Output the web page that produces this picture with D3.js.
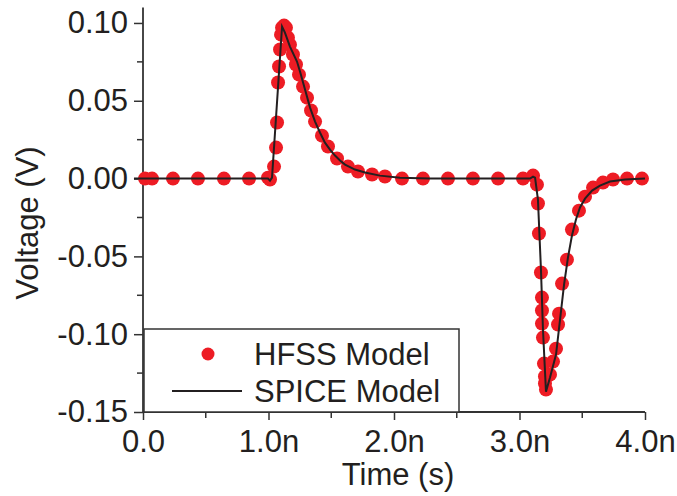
<!DOCTYPE html>
<html>
<head>
<meta charset="utf-8">
<script src="https://cdn.jsdelivr.net/npm/d3@7"></script>
<style>
  body { margin: 0; background: #fff; }
  text { font-family: "Liberation Sans", Arial, sans-serif; fill: #231f20; }
</style>
</head>
<body>
<div id="chart"></div>
<script>
// HFSS samples: time in ns, voltage in V
var hfssTime = [0.016, 0.072, 0.239, 0.438, 0.645, 0.845, 0.996, 1.012, 1.044, 1.060, 1.068, 1.076,
    1.084, 1.092, 1.100, 1.108, 1.124, 1.139, 1.155, 1.171, 1.195, 1.219, 1.243, 1.275, 1.307, 1.339,
    1.371, 1.426, 1.474, 1.546, 1.633, 1.713, 1.825, 1.928, 2.064, 2.231, 2.430, 2.629, 2.829, 3.028,
    3.108, 3.139, 3.147, 3.155, 3.171, 3.179, 3.179, 3.179, 3.187, 3.195, 3.203, 3.203, 3.211, 3.243,
    3.267, 3.291, 3.307, 3.315, 3.339, 3.378, 3.418, 3.474, 3.522, 3.586, 3.665, 3.745, 3.857, 3.976];
var hfssVolt = [0, 0, 0, 0, 0, 0, 0.0006, -0.0006, 0.0077, 0.0199, 0.036, 0.0617,
    0.072, 0.0829, 0.0925, 0.097, 0.0983, 0.097, 0.0906, 0.086, 0.0797, 0.0733, 0.0668, 0.0591, 0.052, 0.0437,
    0.0366, 0.0276, 0.0206, 0.0129, 0.0077, 0.0045, 0.0026, 0.0013, 0, 0, 0, 0, 0, 0,
    0.0019, -0.0039, -0.016, -0.0353, -0.0604, -0.0765, -0.0848, -0.0932, -0.1022, -0.1189, -0.1272, -0.1317, -0.1356, -0.126,
    -0.1176, -0.1093, -0.0938, -0.0868, -0.0675, -0.0521, -0.0328, -0.0206, -0.0116, -0.0058, -0.0026, -0.0006, 0, 0];

// SPICE curve
var spiceTime = [-0.072, 0.996, 1.012, 1.028, 1.108, 1.131, 1.171, 1.227, 1.251, 1.291, 1.331, 1.371, 1.410,
    1.450, 1.490, 1.530, 1.570, 1.610, 1.689, 1.769, 1.888, 2.048, 2.287, 3.084, 3.108, 3.124, 3.147, 3.171,
    3.187, 3.211, 3.243, 3.291, 3.323, 3.355, 3.386, 3.418, 3.450, 3.482, 3.522, 3.578, 3.641, 3.721, 3.841, 4.000];
var spiceVolt = [0, 0, -0.0013, 0.0006, 0.0977, 0.0938, 0.0848, 0.0752, 0.0688, 0.0572, 0.0456, 0.0366, 0.0296,
    0.0231, 0.0186, 0.0148, 0.0116, 0.009, 0.0058, 0.0039, 0.0019, 0.0006, 0, 0, 0.0013, 0.0006, -0.0135, -0.0585,
    -0.097, -0.1369, -0.1279, -0.1131, -0.0906, -0.0681, -0.0508, -0.0366, -0.0263, -0.0186, -0.0129, -0.0077, -0.0045, -0.0019, -0.0006, 0];

var xTicks = [0, 1, 2, 3, 4];
var xTickLabels = ["0.0", "1.0n", "2.0n", "3.0n", "4.0n"];
var yTicks = [0.10, 0.05, 0.00, -0.05, -0.10, -0.15];
var yTickLabels = ["0.10", "0.05", "0.00", "-0.05", "-0.10", "-0.15"];
var seriesNames = ["HFSS Model", "SPICE Model"];

var width = 677, height = 496, fontSize = 31;
var red = "#ed1c24", axisColor = "#333";

var svg = d3.select("#chart").append("svg")
    .attr("width", width)
    .attr("height", height);

//Scales
var x = d3.scaleLinear().domain([0, 4]).range([143, 645]);
var y = d3.scaleLinear().domain([-0.15, 0.11]).range([412, 7.4]);

//Y axis
var yAxis = d3.axisLeft(y)
    .tickValues(yTicks)
    .tickFormat(function(d, i) { return yTickLabels[i]; })
    .tickSize(9).tickPadding(6);
var gy = svg.append("g").attr("transform", "translate(" + x(0) + ",0)").call(yAxis);
gy.select(".domain").attr("stroke", axisColor).attr("stroke-width", 1.8).attr("d", "M0," + y(-0.15) + "V" + y(0.11));
gy.selectAll(".tick line").attr("stroke", axisColor).attr("stroke-width", 1.5);
gy.selectAll(".tick text").attr("font-size", fontSize).style("font-family", "Liberation Sans, Arial, sans-serif").attr("fill", "#231f20");

var yMinor = [0.075, 0.025, -0.025, -0.075, -0.125];
gy.selectAll(".minor").data(yMinor).enter().append("line")
    .attr("x1", -6).attr("x2", 0)
    .attr("y1", function(d) { return y(d); }).attr("y2", function(d) { return y(d); })
    .attr("stroke", axisColor).attr("stroke-width", 1.5);

//X axis
var xAxis = d3.axisBottom(x)
    .tickValues(xTicks)
    .tickFormat(function(d, i) { return xTickLabels[i]; })
    .tickSize(8).tickPadding(10);
var gx = svg.append("g").attr("transform", "translate(0," + y(-0.15) + ")").call(xAxis);
gx.select(".domain").attr("stroke", axisColor).attr("stroke-width", 1.8).attr("d", "M" + x(0) + ",0H" + x(4));
gx.selectAll(".tick line").attr("stroke", axisColor).attr("stroke-width", 1.5);
gx.selectAll(".tick text").attr("font-size", fontSize).style("font-family", "Liberation Sans, Arial, sans-serif").attr("fill", "#231f20");

var xMinor = [0.5, 1.5, 2.5, 3.5];
gx.selectAll(".minor").data(xMinor).enter().append("line")
    .attr("x1", function(d) { return x(d); }).attr("x2", function(d) { return x(d); })
    .attr("y1", 0).attr("y2", 6)
    .attr("stroke", axisColor).attr("stroke-width", 1.5);

//Axis titles
svg.append("text").attr("x", 398).attr("y", 485).attr("text-anchor", "middle")
    .attr("font-size", fontSize).text("Time (s)");
svg.append("text").attr("transform", "translate(38,223) rotate(-90)").attr("text-anchor", "middle")
    .attr("font-size", fontSize).text("Voltage (V)");

//HFSS dots
var hfss = hfssTime.map(function(t, i) { return {t: t, v: hfssVolt[i]}; });
svg.append("g").selectAll("circle").data(hfss).enter().append("circle")
    .attr("cx", function(d) { return x(d.t); })
    .attr("cy", function(d) { return y(d.v); })
    .attr("r", 7)
    .attr("fill", red);

//SPICE line
var spice = spiceTime.map(function(t, i) { return {t: t, v: spiceVolt[i]}; });
var line = d3.line().x(function(d) { return x(d.t); }).y(function(d) { return y(d.v); });
svg.append("path").datum(spice)
    .attr("d", line)
    .attr("fill", "none")
    .attr("stroke", "#231f20")
    .attr("stroke-width", 2);

//Legend
var legend = svg.append("g");
legend.append("rect").attr("x", 144).attr("y", 329).attr("width", 315).attr("height", 83)
    .attr("fill", "#fff").attr("stroke", axisColor).attr("stroke-width", 1.5);
legend.append("circle").attr("cx", 208).attr("cy", 354).attr("r", 6.5).attr("fill", red);
legend.append("line").attr("x1", 172).attr("x2", 242).attr("y1", 391).attr("y2", 391)
    .attr("stroke", "#231f20").attr("stroke-width", 2);
legend.selectAll(".label").data(seriesNames).enter().append("text")
    .attr("x", 254)
    .attr("y", function(d, i) { return 365 + i * 37; })
    .attr("font-size", fontSize)
    .text(function(d) { return d; });
</script>
</body>
</html>
